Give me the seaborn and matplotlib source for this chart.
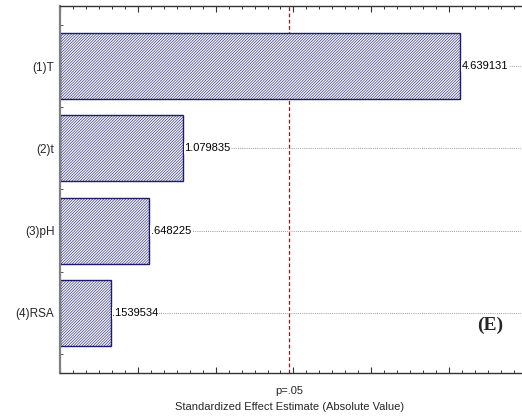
"""
Grafico de Pareto dos efeitos padronizados (valor absoluto), painel (E).
Saida: out.png
"""

import matplotlib
matplotlib.use("Agg")
import matplotlib.pyplot as plt
import numpy as np
import pandas as pd
import seaborn as sns
from matplotlib.ticker import MultipleLocator


FATORES = ["(1)T", "(2)t", "(3)pH", "(4)RSA"]
EFEITOS = [4.639131, 1.079835, 0.648225, 0.1539534]
P_CRITICO = 2.446912
ROTULO_P = "p=.05"
ROTULO_X = "Standardized Effect Estimate (Absolute Value)"
PAINEL = "(E)"

# eixo do Statistica comeca antes do zero; as barras partem da borda esquerda
X_MIN, X_MAX = -0.5, 5.424

COR_BARRA = "#1c1c6c"
COR_LINHA_P = "#8b1a1a"


def formatar_efeito(v: float) -> str:
    txt = f"{v:.7g}"
    return txt[1:] if txt.startswith("0.") else txt


def gerar_pareto(caminho_saida: str = "out.png") -> None:
    sns.set_theme(style="white")
    plt.rcParams["font.family"] = ["Liberation Sans", "DejaVu Sans"]
    plt.rcParams["hatch.linewidth"] = 0.4
    plt.rcParams["hatch.color"] = "#3a3a80"

    df = pd.DataFrame({"Fator": FATORES, "Efeito": EFEITOS})
    df["Comprimento"] = df["Efeito"] - X_MIN

    fig = plt.figure(figsize=(5.22, 4.16), dpi=100)
    ax = fig.add_axes([60 / 522, 1 - 373 / 416, 461 / 522, 367 / 416])

    # linhas de grade pontilhadas na altura de cada barra
    for i in range(len(FATORES)):
        ax.axhline(i, color="#9a9a9a", linestyle=(0, (1, 1.2)), linewidth=0.7, zorder=0)

    sns.barplot(
        data=df,
        x="Comprimento",
        y="Fator",
        orient="h",
        left=X_MIN,
        width=0.8,
        color="white",
        edgecolor=COR_BARRA,
        linewidth=1.0,
        hatch="////////////",
        ax=ax,
        zorder=2,
    )
    for barra in ax.patches:
        barra.set_facecolor("#f4f4fa")

    for i, v in enumerate(EFEITOS):
        ax.text(
            v + 0.02, i, formatar_efeito(v),
            ha="left", va="center", fontsize=8, color="black",
            bbox=dict(facecolor="white", edgecolor="none", pad=0.5),
            zorder=3,
        )

    ax.axvline(P_CRITICO, color=COR_LINHA_P, linestyle=(0, (3, 2)), linewidth=0.9, zorder=1)

    ax.set_xlim(X_MIN, X_MAX)
    ax.set_ylim(len(FATORES) - 1 + 0.73, -0.73)

    ax.set_xlabel("")
    ax.set_ylabel("")
    ax.xaxis.set_major_locator(MultipleLocator(1.0, offset=0.5))
    ax.xaxis.set_minor_locator(MultipleLocator(1 / 6, offset=0.5))
    ax.set_xticklabels([])
    ax.tick_params(axis="x", which="major", direction="in", length=4, width=0.8,
                   top=True, bottom=True, colors="#333333")
    ax.tick_params(axis="x", which="minor", direction="in", length=2.5, width=0.7,
                   top=True, bottom=True, colors="#333333")

    ax.yaxis.set_minor_locator(MultipleLocator(0.25, offset=0.0))
    ax.tick_params(axis="y", which="major", length=0, pad=4, labelsize=8.5)
    ax.tick_params(axis="y", which="minor", direction="in", length=2.5, width=0.7,
                   left=True, colors="#555555")

    for lado in ["top", "bottom"]:
        ax.spines[lado].set_color("#333333")
        ax.spines[lado].set_linewidth(1.0)
    ax.spines["left"].set_color("#808080")
    ax.spines["left"].set_linewidth(1.6)
    ax.spines["right"].set_visible(False)

    ax.text(P_CRITICO, -0.035, ROTULO_P, transform=ax.get_xaxis_transform(),
            ha="center", va="top", fontsize=8)
    fig.text(290 / 522, 1 - 407 / 416, ROTULO_X, ha="center", va="center", fontsize=8)

    ax.text(0.933, 0.131, PAINEL, transform=ax.transAxes, ha="center", va="center",
            fontsize=14, fontweight="bold", family=["Liberation Serif", "DejaVu Serif"])

    fig.savefig(caminho_saida, dpi=100)
    plt.close(fig)


if __name__ == "__main__":
    gerar_pareto()
